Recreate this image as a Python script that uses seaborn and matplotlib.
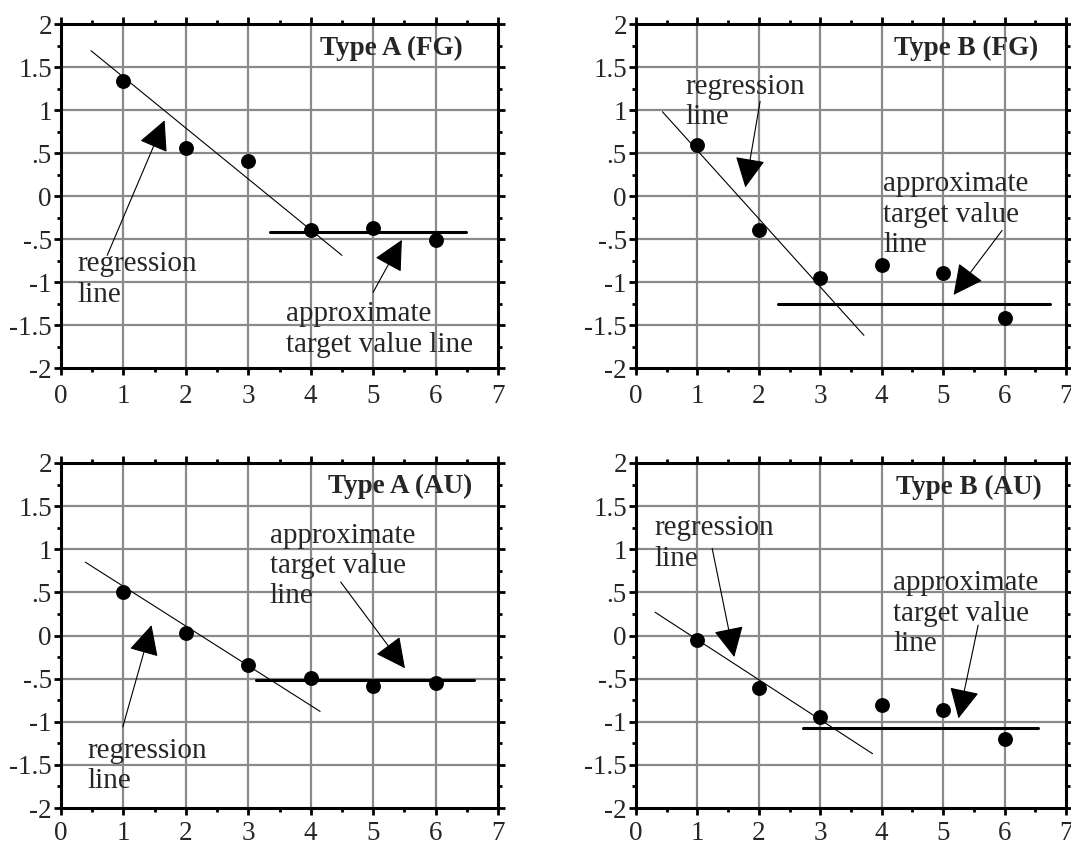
import matplotlib
matplotlib.use("Agg")
import matplotlib.pyplot as plt
import seaborn as sns
import pandas as pd
from matplotlib.ticker import MultipleLocator, FixedLocator, FixedFormatter

sns.set_style("ticks")
plt.rcParams['font.family'] = ['Liberation Serif', 'DejaVu Serif']

# ---------------- data ----------------
x_vals = [1, 2, 3, 4, 5, 6]
panel_titles = ["Type A (FG)", "Type B (FG)", "Type A (AU)", "Type B (AU)"]

type_a_fg = [1.34, 0.56, 0.41, -0.39, -0.37, -0.51]
type_b_fg = [0.59, -0.39, -0.95, -0.80, -0.89, -1.42]
type_a_au = [0.50, 0.03, -0.34, -0.49, -0.59, -0.55]
type_b_au = [-0.05, -0.61, -0.95, -0.80, -0.86, -1.20]

# regression line endpoints
reg_a_fg_x = [0.48, 4.50]; reg_a_fg_y = [1.69, -0.69]
reg_b_fg_x = [0.43, 3.71]; reg_b_fg_y = [0.98, -1.62]
reg_a_au_x = [0.39, 4.15]; reg_a_au_y = [0.85, -0.88]
reg_b_au_x = [0.31, 3.85]; reg_b_au_y = [0.27, -1.37]

# approximate target value lines
tgt_a_fg_x = [3.34, 6.49]; tgt_a_fg_y = -0.42
tgt_b_fg_x = [2.31, 6.74]; tgt_b_fg_y = -1.26
tgt_a_au_x = [3.13, 6.62]; tgt_a_au_y = -0.52
tgt_b_au_x = [2.72, 6.54]; tgt_b_au_y = -1.075

# annotation labels
reg_label = "regression\nline"
tgt_label_a_fg = "approximate\ntarget value line"
tgt_label_other = "approximate\ntarget value\nline"

# annotation anchors: (text x, last-line baseline y), arrow tail, arrow tip
reg_text_pos = [(0.26, -1.23), (0.81, 0.837), (0.42, -1.77), (0.30, 0.81)]
reg_arrow_tail = [(0.74, -0.69), (2.02, 1.10), (0.99, -1.06), (1.24, 1.01)]
reg_arrow_tip = [(1.66, 0.88), (1.78, 0.10), (1.45, 0.12), (1.60, -0.25)]
tgt_text_pos = [(3.61, -1.81), (4.02, -0.65), (3.34, 0.373), (4.19, -0.18)]
tgt_arrow_tail = [(5.00, -1.12), (5.96, -0.40), (4.48, 0.62), (5.57, 0.12)]
tgt_arrow_tip = [(5.46, -0.51), (5.17, -1.15), (5.51, -0.38), (5.25, -0.96)]
title_pos = [(6.44, 1.64), (6.55, 1.64), (6.58, 1.65), (6.61, 1.64)]

x_ticks = [0, 1, 2, 3, 4, 5, 6, 7]
x_tick_labels = ["0", "1", "2", "3", "4", "5", "6", "7"]
y_ticks = [-2, -1.5, -1, -0.5, 0, 0.5, 1, 1.5, 2]
y_tick_labels = ["-2", "-1.5", "-1", "-.5", "0", ".5", "1", "1.5", "2"]

series = [type_a_fg, type_b_fg, type_a_au, type_b_au]
reg_xs = [reg_a_fg_x, reg_b_fg_x, reg_a_au_x, reg_b_au_x]
reg_ys = [reg_a_fg_y, reg_b_fg_y, reg_a_au_y, reg_b_au_y]
tgt_xs = [tgt_a_fg_x, tgt_b_fg_x, tgt_a_au_x, tgt_b_au_x]
tgt_ys = [tgt_a_fg_y, tgt_b_fg_y, tgt_a_au_y, tgt_b_au_y]
tgt_labels = [tgt_label_a_fg, tgt_label_other, tgt_label_other, tgt_label_other]

# ---------------- figure ----------------
W, H = 1071, 844
fig = plt.figure(figsize=(W / 100, H / 100), dpi=100)
rects = [
    (61 / W, 1 - 368 / H, 437 / W, 344 / H),
    (636 / W, 1 - 368 / H, 430 / W, 344 / H),
    (61 / W, 1 - 808 / H, 437 / W, 345 / H),
    (636 / W, 1 - 808 / H, 430 / W, 345 / H),
]
x_pads = [6.5, 6.5, 4.5, 4.5]

TICK_FS = 19.5
ANN_FS = 21
TITLE_FS = 19.5
grid_color = "#8a8a8a"

for i in range(4):
    ax = fig.add_axes(rects[i])
    ax.set_xlim(0, 7)
    ax.set_ylim(-2, 2)

    # grid
    for xv in x_ticks[1:-1]:
        ax.axvline(xv, color=grid_color, lw=1.6, zorder=0)
    for yv in y_ticks[1:-1]:
        ax.axhline(yv, color=grid_color, lw=1.6, zorder=0)

    df = pd.DataFrame({"x": x_vals, "y": series[i]})
    sns.scatterplot(data=df, x="x", y="y", ax=ax, color="black", s=115,
                    edgecolor="black", linewidth=0, zorder=5)

    reg_df = pd.DataFrame({"x": reg_xs[i], "y": reg_ys[i]})
    sns.lineplot(data=reg_df, x="x", y="y", ax=ax, color="black", lw=0.8,
                 zorder=3, sort=False, estimator=None)
    tgt_df = pd.DataFrame({"x": tgt_xs[i], "y": [tgt_ys[i]] * 2})
    sns.lineplot(data=tgt_df, x="x", y="y", ax=ax, color="black", lw=2.2,
                 zorder=4, sort=False, estimator=None)

    aprops = dict(arrowstyle="-|>,head_length=1.0,head_width=0.5",
                  mutation_scale=19, lw=0.8, color="black",
                  shrinkA=0, shrinkB=0)
    ax.annotate("", xy=reg_arrow_tip[i], xytext=reg_arrow_tail[i],
                xycoords="data", textcoords="data", arrowprops=aprops, zorder=6)
    ax.annotate("", xy=tgt_arrow_tip[i], xytext=tgt_arrow_tail[i],
                xycoords="data", textcoords="data", arrowprops=aprops, zorder=6)

    ax.text(reg_text_pos[i][0], reg_text_pos[i][1], reg_label, fontsize=ANN_FS,
            ha="left", va="baseline", linespacing=1.22, zorder=7)
    ax.text(tgt_text_pos[i][0], tgt_text_pos[i][1], tgt_labels[i], fontsize=ANN_FS,
            ha="left", va="baseline", linespacing=1.22, zorder=7)
    ax.text(title_pos[i][0], title_pos[i][1], panel_titles[i], fontsize=TITLE_FS,
            fontweight="bold", ha="right", va="baseline", zorder=7)

    ax.xaxis.set_major_locator(FixedLocator(x_ticks))
    ax.xaxis.set_major_formatter(FixedFormatter(x_tick_labels))
    ax.yaxis.set_major_locator(FixedLocator(y_ticks))
    ax.yaxis.set_major_formatter(FixedFormatter(y_tick_labels))
    ax.xaxis.set_minor_locator(MultipleLocator(0.5))
    ax.yaxis.set_minor_locator(MultipleLocator(0.25))
    ax.tick_params(which="both", direction="out", top=True, right=True,
                   labelsize=TICK_FS, width=2.0, color="black")
    ax.tick_params(which="major", length=5)
    ax.tick_params(which="minor", length=3)
    ax.tick_params(axis="x", which="major", pad=x_pads[i])
    ax.tick_params(axis="y", which="major", pad=1.5)
    ax.set_xlabel("")
    ax.set_ylabel("")
    for sp in ax.spines.values():
        sp.set_visible(True)
        sp.set_linewidth(2.2)
        sp.set_color("black")
    ax.set_facecolor("white")

fig.savefig("out.png", dpi=100, facecolor="white")
